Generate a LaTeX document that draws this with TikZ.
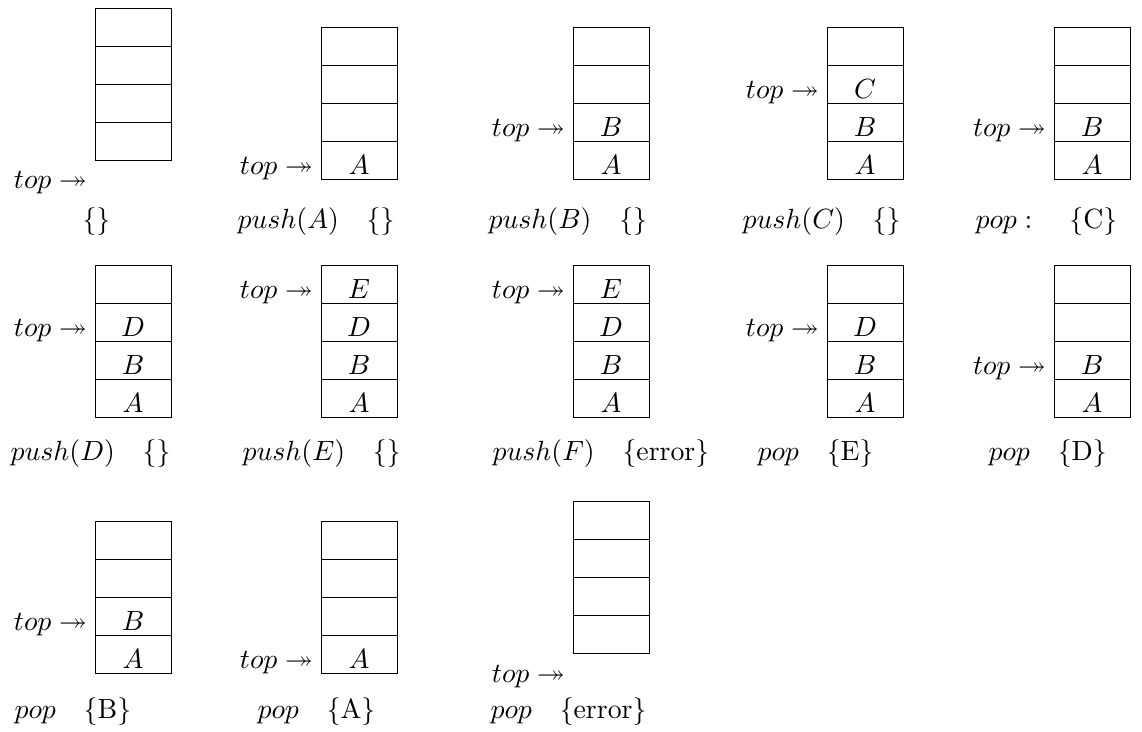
\documentclass[tikz,border=0pt]{standalone}
\usepackage{amssymb}
\tikzset{
  x=0.36pt, y=-0.36pt,
  cellbox/.style={draw, line width=0.45pt, minimum width=27.36pt, minimum height=13.68pt, inner sep=0pt, anchor=north west},
  celltext/.style={anchor=base, inner sep=0pt},
  toplabel/.style={anchor=base east, inner sep=0pt},
  oplabel/.style={anchor=base west, inner sep=0pt}
}
% #1 name, #2 left x, #3 top y (pixels)
\newcommand\stackcells[3]{%
  \node[cellbox] (#1-4) at (#2,#3) {};
  \node[cellbox] (#1-3) at (#2,#3+38) {};
  \node[cellbox] (#1-2) at (#2,#3+76) {};
  \node[cellbox] (#1-1) at (#2,#3+114) {};
}
% #1 name, #2 left x, #3 top y, #4 cell index (1 = bottom), #5 text
\newcommand\cellentry[5]{%
  \node[celltext] (#1-t#4) at (#2+38,#3+147-38*#4+38) {$#5$};
}
% #1 name, #2 left x, #3 baseline y
\newcommand\toppointer[3]{%
  \node[toplabel] (#1-top) at (#2-7.5,#3) {$top \twoheadrightarrow$};
}
\begin{document}
\begin{tikzpicture}
\useasboundingbox (0,0) rectangle (1142,731);

% ---------- row 1 ----------
\stackcells{s1}{95}{8}
\toppointer{s1}{95}{188}
\node[oplabel] (s1-op) at (82,228) {\{\}};

\stackcells{s2}{321}{27}
\cellentry{s2}{321}{27}{1}{A}
\toppointer{s2}{321}{27+147}
\node[oplabel] (s2-op) at (237,228) {$push(A)$\quad\{\}};

\stackcells{s3}{573}{27}
\cellentry{s3}{573}{27}{1}{A}
\cellentry{s3}{573}{27}{2}{B}
\toppointer{s3}{573}{27+147-38}
\node[oplabel] (s3-op) at (488,228) {$push(B)$\quad\{\}};

\stackcells{s4}{827}{27}
\cellentry{s4}{827}{27}{1}{A}
\cellentry{s4}{827}{27}{2}{B}
\cellentry{s4}{827}{27}{3}{C}
\toppointer{s4}{827}{27+147-76}
\node[oplabel] (s4-op) at (742,228) {$push(C)$\quad\{\}};

\stackcells{s5}{1054}{27}
\cellentry{s5}{1054}{27}{1}{A}
\cellentry{s5}{1054}{27}{2}{B}
\toppointer{s5}{1054}{27+147-38}
\node[oplabel] (s5-op) at (975,228) {$pop:$ \quad\{C\}};

% ---------- row 2 ----------
\stackcells{s6}{95}{265}
\cellentry{s6}{95}{265}{1}{A}
\cellentry{s6}{95}{265}{2}{B}
\cellentry{s6}{95}{265}{3}{D}
\toppointer{s6}{95}{265+147-76}
\node[oplabel] (s6-op) at (10,460) {$push(D)$\quad\{\}};

\stackcells{s7}{321}{265}
\cellentry{s7}{321}{265}{1}{A}
\cellentry{s7}{321}{265}{2}{B}
\cellentry{s7}{321}{265}{3}{D}
\cellentry{s7}{321}{265}{4}{E}
\toppointer{s7}{321}{265+147-114}
\node[oplabel] (s7-op) at (242,460) {$push(E)$\quad\{\}};

\stackcells{s8}{573}{265}
\cellentry{s8}{573}{265}{1}{A}
\cellentry{s8}{573}{265}{2}{B}
\cellentry{s8}{573}{265}{3}{D}
\cellentry{s8}{573}{265}{4}{E}
\toppointer{s8}{573}{265+147-114}
\node[oplabel] (s8-op) at (492,460) {$push(F)$\quad\{error\}};

\stackcells{s9}{827}{265}
\cellentry{s9}{827}{265}{1}{A}
\cellentry{s9}{827}{265}{2}{B}
\cellentry{s9}{827}{265}{3}{D}
\toppointer{s9}{827}{265+147-76}
\node[oplabel] (s9-op) at (757,460) {$pop$\quad\{E\}};

\stackcells{s10}{1054}{265}
\cellentry{s10}{1054}{265}{1}{A}
\cellentry{s10}{1054}{265}{2}{B}
\toppointer{s10}{1054}{265+147-38}
\node[oplabel] (s10-op) at (988,460) {$pop$\quad\{D\}};

% ---------- row 3 ----------
\stackcells{s11}{95}{521}
\cellentry{s11}{95}{521}{1}{A}
\cellentry{s11}{95}{521}{2}{B}
\toppointer{s11}{95}{521+147-38}
\node[oplabel] (s11-op) at (14,718) {$pop$\quad\{B\}};

\stackcells{s12}{321}{521}
\cellentry{s12}{321}{521}{1}{A}
\toppointer{s12}{321}{521+147}
\node[oplabel] (s12-op) at (257,718) {$pop$\quad\{A\}};

\stackcells{s13}{573}{501}
\toppointer{s13}{573}{682}
\node[oplabel] (s13-op) at (490,718) {$pop$\quad\{error\}};
\end{tikzpicture}
\end{document}
